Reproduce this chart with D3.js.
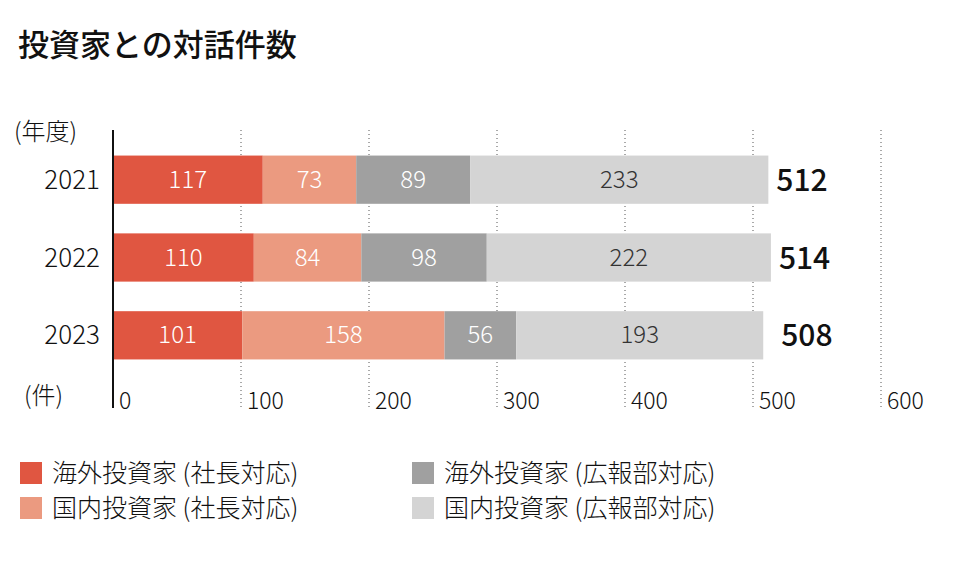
<!DOCTYPE html>
<html><head><meta charset="utf-8">
<script src="https://cdn.jsdelivr.net/npm/d3@7/dist/d3.min.js"></script>
<style>body{margin:0;background:#fff;font-family:"Noto Sans CJK JP","Noto Sans",sans-serif;}</style>
</head><body><svg id="c" width="969" height="567"></svg>
<script>
const years = ["2021","2022","2023"];
const seriesNames = ["海外投資家 (社長対応)","国内投資家 (社長対応)","海外投資家 (広報部対応)","国内投資家 (広報部対応)"];
const s1 = [117,110,101];
const s2 = [73,84,158];
const s3 = [89,98,56];
const s4 = [233,222,193];
const totals = [512,514,508];
const ticks = [0,100,200,300,400,500,600];
const colors = ["#e05641","#eb9a80","#a0a0a0","#d4d4d4"];
const textColors = ["#fff","#fff","#fff","#333"];

const svg = d3.select("#c");
const x = d3.scaleLinear().domain([0,600]).range([113,881]);
const y = d3.scaleBand().domain(years).range([140,375]).paddingInner(0.38).paddingOuter(0.2);

svg.append("text").attr("x",18).attr("y",56).attr("font-size",31).attr("font-weight",500).attr("fill","#111").text("投資家との対話件数");

svg.selectAll(".g").data(ticks.slice(1)).enter().append("line")
 .attr("x1",d=>x(d)).attr("x2",d=>x(d)).attr("y1",130).attr("y2",408)
 .attr("stroke","#555").attr("stroke-width",1).attr("stroke-dasharray","1,3");
svg.selectAll(".t").data(ticks).enter().append("text")
 .attr("x",d=>x(d)+6).attr("y",409).attr("font-size",23).attr("font-weight",300).attr("fill","#111").text(d=>d);

const data = [s1,s2,s3,s4];
years.forEach((yr,i)=>{
  let acc=0;
  data.forEach((s,j)=>{
    const v=s[i];
    svg.append("rect").attr("x",x(acc)).attr("y",y(yr)).attr("width",x(acc+v)-x(acc)).attr("height",y.bandwidth()).attr("fill",colors[j]);
    svg.append("text").attr("x",(x(acc)+x(acc+v))/2).attr("y",y(yr)+y.bandwidth()/2+8).attr("text-anchor","middle")
      .attr("font-size",24).attr("font-weight",300).attr("fill",textColors[j]).text(v);
    acc+=v;
  });
  svg.append("text").attr("x",x(acc)+8+(i==2?10:0)).attr("y",y(yr)+y.bandwidth()/2+11).attr("font-size",30).attr("font-weight",500).attr("fill","#111").text(totals[i]);
  svg.append("text").attr("x",100).attr("y",y(yr)+y.bandwidth()/2+9).attr("text-anchor","end").attr("font-size",26).attr("font-weight",300).attr("fill","#111").text(yr);
});
svg.append("line").attr("x1",113).attr("x2",113).attr("y1",130).attr("y2",408).attr("stroke","#111").attr("stroke-width",2);
svg.append("text").attr("x",14).attr("y",140).attr("font-size",24).attr("font-weight",300).attr("fill","#111").text("(年度)");
svg.append("text").attr("x",24).attr("y",404).attr("font-size",24).attr("font-weight",300).attr("fill","#111").text("(件)");

const lx=[20,20,412,412], ly=[462,497,462,497];
[0,1,2,3].forEach(j=>{
  svg.append("rect").attr("x",lx[j]).attr("y",ly[j]).attr("width",22).attr("height",22).attr("fill",colors[j]);
  svg.append("text").attr("x",lx[j]+32).attr("y",ly[j]+20).attr("font-size",25).attr("font-weight",300).attr("fill","#111").text(seriesNames[j]);
});
</script></body></html>
